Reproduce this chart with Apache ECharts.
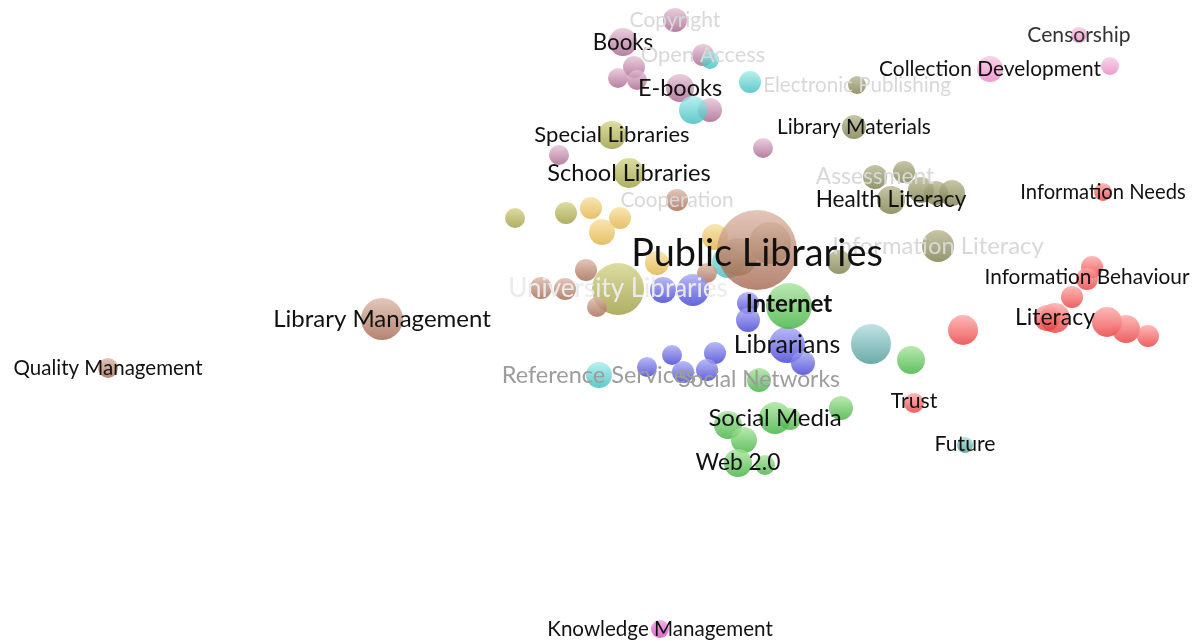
<!DOCTYPE html>
<html>
<head>
<meta charset="utf-8">
<script src="https://cdn.jsdelivr.net/npm/echarts@6/dist/echarts.min.js"></script>
<style>
  html, body { margin: 0; padding: 0; background: #fff; }
  #chart { width: 1195px; height: 642px; }
</style>
</head>
<body>
<div id="chart"></div>
<script>
// keyword map: map coordinates, weights and cluster of each item
var nodeNames = [
  'Copyright', 'Books', 'Open Access', '', '', '', 'E-books', '', '', '',
  '', '', '', '', 'Reference Services',
  'Electronic Publishing', 'Library Materials', 'Assessment', '', '', '', '', 'Health Literacy', 'Information Literacy', '', '', '',
  'Special Libraries', 'School Libraries', '', '', 'University Libraries',
  '', '', '', '', '',
  'Cooperation', '', '', '', '', '', 'Public Libraries', 'Library Management', 'Quality Management',
  '', '', '', '', 'Librarians', '', '', '', '', '', '',
  'Internet', 'Social Networks', '', '', '', 'Social Media', '', '', 'Web 2.0', '',
  'Information Needs', '', 'Information Behaviour', '', 'Literacy', '', '', '', '', '', 'Trust',
  '', 'Future',
  'Censorship', 'Collection Development', '',
  'Knowledge Management'
]
var nodeX = [
  675, 623, 703, 634, 618, 637, 680, 710, 763, 559,
  710, 750, 693, 728, 599,
  857, 854, 875, 904, 921, 936, 952, 891, 938, 839, 770, 738,
  612, 629, 515, 566, 618,
  591, 620, 602, 657, 715,
  677, 586, 541, 565, 597, 707, 757, 382, 108,
  663, 693, 748, 748, 787, 803, 672, 715, 647, 683, 707,
  789, 759, 911, 841, 728, 775, 790, 744, 738, 765,
  1103, 1092, 1087, 1072, 1055, 1047, 1107, 1126, 1148, 963, 914,
  871, 965,
  1079, 990, 1110,
  660
]
var nodeY = [
  20, 42, 55, 67, 78, 80, 88, 110, 148, 155,
  60, 82, 110, 262, 375,
  85, 127, 177, 172, 190, 193, 193, 200, 246, 262, 243, 257,
  135, 173, 218, 213, 289,
  208, 218, 232, 263, 237,
  200, 270, 288, 289, 307, 273, 250, 319, 368,
  290, 290, 303, 320, 345, 363, 355, 353, 367, 372, 370,
  306, 380, 360, 408, 425, 418, 419, 440, 463, 465,
  192, 267, 279, 297, 318, 318, 322, 329, 336, 330, 403,
  344, 445,
  35, 69, 66,
  629
]
var nodeWeight = [
  12, 14, 11, 11, 10, 10, 14, 12, 10, 10,
  9, 11, 14, 16, 13,
  9, 12, 12, 11, 13, 12, 13, 14, 16, 12, 21, 19,
  14, 15, 10, 11, 26,
  11, 11, 13, 12, 13,
  11, 11, 11, 11, 10, 10, 40, 21, 10,
  13, 16, 11, 12, 18, 12, 10, 11, 10, 11, 11,
  23, 12, 14, 12, 14, 16, 11, 13, 14, 10,
  9, 11, 11, 11, 15, 13, 15, 14, 11, 15, 10,
  20, 8,
  8, 13, 9,
  9
]
var nodeCluster = [
  'mauve', 'mauve', 'mauve', 'mauve', 'mauve', 'mauve', 'mauve', 'mauve', 'mauve', 'mauve',
  'cyan', 'cyan', 'cyan', 'cyan', 'cyan',
  'olive', 'olive', 'olive', 'olive', 'olive', 'olive', 'olive', 'olive', 'olive', 'olive', 'olive', 'olive',
  'lime', 'lime', 'lime', 'lime', 'lime',
  'gold', 'gold', 'gold', 'gold', 'gold',
  'brown', 'brown', 'brown', 'brown', 'brown', 'brown', 'brown', 'brown', 'brown',
  'blue', 'blue', 'blue', 'blue', 'blue', 'blue', 'blue', 'blue', 'blue', 'blue', 'blue',
  'green', 'green', 'green', 'green', 'green', 'green', 'green', 'green', 'green', 'green',
  'red', 'red', 'red', 'red', 'red', 'red', 'red', 'red', 'red', 'red', 'red',
  'teal', 'teal',
  'pink', 'pink', 'pink',
  'magenta'
]

// cluster colours: [light top, dark bottom]
var clusterColors = {
  mauve: ['#e6c2d6', '#a6608a'],
  cyan: ['#a8ecec', '#38bcbc'],
  olive: ['#b8b890', '#7a7a48'],
  lime: ['#d4d488', '#9a9a3c'],
  gold: ['#f7e0a0', '#e0b040'],
  brown: ['#dcb8a8', '#a4664e'],
  blue: ['#a8a8f4', '#3c3cd4'],
  green: ['#a8e49c', '#3cb03c'],
  red: ['#ffa8a8', '#e83838'],
  teal: ['#b0dcdc', '#489696'],
  pink: ['#f8c8e4', '#e884c4'],
  magenta: ['#f49ce4', '#d040c0']
}

// label styles: size and shade
var dark = '#111', faint = '#d8d8d8', mid = '#9c9c9c'
var labelStyle = {
  'Public Libraries': { size: 37.8, color: dark, dy: 4 },
  'University Libraries': { size: 26, color: '#ebebeb' },
  'Library Management': { size: 24, color: dark },
  'Internet': { size: 24.2, color: dark, weight: 'bold', dy: -2 },
  'Librarians': { size: 25, color: dark },
  'Social Media': { size: 24, color: dark },
  'Social Networks': { size: 22.8, color: mid },
  'Reference Services': { size: 23.5, color: mid },
  'Web 2.0': { size: 22.8, color: dark },
  'Books': { size: 22.3, color: dark, dy: 1 },
  'E-books': { size: 23.5, color: dark },
  'Special Libraries': { size: 22, color: dark },
  'School Libraries': { size: 23.6, color: dark },
  'Health Literacy': { size: 22.6, color: dark },
  'Information Literacy': { size: 23.8, color: faint },
  'Library Materials': { size: 20.9, color: dark },
  'Collection Development': { size: 20.9, color: dark },
  'Censorship': { size: 21.1, color: '#333' },
  'Information Needs': { size: 20.2, color: dark },
  'Information Behaviour': { size: 20.8, color: dark, dy: -2 },
  'Literacy': { size: 23, color: dark },
  'Trust': { size: 21.2, color: dark, dy: -2 },
  'Future': { size: 21.2, color: dark, dy: -1 },
  'Quality Management': { size: 20.5, color: dark },
  'Knowledge Management': { size: 20.6, color: dark },
  'Copyright': { size: 21, color: faint },
  'Open Access': { size: 21.9, color: faint },
  'Electronic Publishing': { size: 20.6, color: faint },
  'Cooperation': { size: 20.7, color: faint },
  'Assessment': { size: 22.8, color: faint }
}

var bubbles = []
var labels = []
nodeNames.forEach(function (name, i) {
  var c = clusterColors[nodeCluster[i]]
  bubbles.push({
    value: [nodeX[i], nodeY[i], nodeWeight[i]],
    itemStyle: {
      color: {
        type: 'linear', x: 0, y: 0, x2: 0, y2: 1,
        colorStops: [{ offset: 0, color: c[0] }, { offset: 1, color: c[1] }]
      }
    }
  })
  if (name) {
    var s = labelStyle[name]
    labels.push({
      name: name,
      value: [nodeX[i], nodeY[i]],
      label: {
        fontSize: s.size,
        color: s.color,
        fontWeight: s.weight || 'normal',
        offset: [s.dx || 0, s.dy || 0]
      }
    })
  }
})

var chart = echarts.init(document.getElementById('chart'))
chart.setOption({
  backgroundColor: '#fff',
  animation: false,
  grid: { left: 0, right: 0, top: 0, bottom: 0 },
  xAxis: { type: 'value', min: 0, max: 1195, show: false },
  yAxis: { type: 'value', min: 0, max: 642, inverse: true, show: false },
  series: [
    {
      type: 'scatter',
      data: bubbles,
      symbolSize: function (v) { return v[2] * 2 },
      itemStyle: { opacity: 0.8 },
      z: 2
    },
    {
      type: 'scatter',
      data: labels,
      symbolSize: 1,
      itemStyle: { color: 'rgba(0,0,0,0)' },
      label: {
        show: true,
        position: 'inside',
        formatter: '{b}',
        opacity: 1,
        textBorderWidth: 0,
        fontFamily: 'Lato, sans-serif'
      },
      z: 5
    }
  ]
})
</script>
</body>
</html>
